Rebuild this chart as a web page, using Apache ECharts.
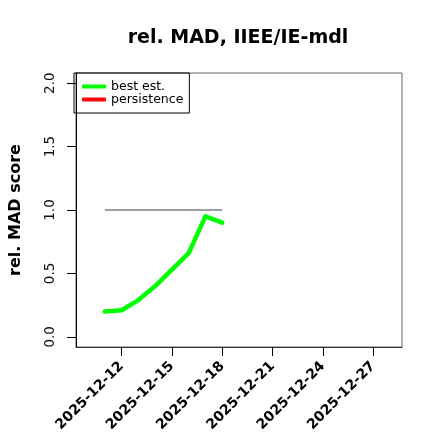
<!DOCTYPE html>
<html><head><meta charset="utf-8">
<script src="https://cdn.jsdelivr.net/npm/echarts@6/dist/echarts.min.js"></script>
<style>html,body{margin:0;padding:0;background:#fff}#c{width:440px;height:440px}</style>
</head><body><div id="c"></div>
<script>
const dates = ['2025-12-11','2025-12-12','2025-12-13','2025-12-14','2025-12-15','2025-12-16','2025-12-17','2025-12-18'];
const bestEst = [0.20, 0.21, 0.29, 0.40, 0.53, 0.66, 0.95, 0.90];
const persistence = [null, null, null, null, null, null, null, null];
const refLine = [1, 1, 1, 1, 1, 1, 1, 1];
const xTickLabels = ['2025-12-12','2025-12-15','2025-12-18','2025-12-21','2025-12-24','2025-12-27'];
const yTickLabels = ['0.0','0.5','1.0','1.5','2.0'];

const t = s => Date.parse(s + 'T00:00:00Z');
const xStart = t('2025-12-10'), xEnd = t('2025-12-28');
const span = xEnd - xStart;
const xTicks = xTickLabels.map(t);
const yTicks = yTickLabels.map(Number);
const pts = arr => dates.map((d, i) => [t(d), arr[i]]);
const font = 'DejaVu Sans';

const chart = echarts.init(document.getElementById('c'), null, {renderer: 'canvas'});
chart.setOption({
  animation: false,
  backgroundColor: '#fff',
  title: {
    text: 'rel. MAD, IIEE/IE-mdl',
    left: 233, top: 24, textAlign: 'center',
    textStyle: {fontFamily: font, fontWeight: 'bold', fontSize: 19, color: '#000'}
  },
  legend: {
    orient: 'vertical', left: 74, top: 73,
    borderColor: '#000', borderWidth: 1, padding: [7, 6, 7, 8],
    itemGap: 0, itemWidth: 24, itemHeight: 4, itemTextGap: 9,
    icon: 'roundRect',
    textStyle: {fontFamily: font, fontSize: 12.5, color: '#000', lineHeight: 13},
    data: ['best est.', 'persistence']
  },
  grid: {left: 74, top: 73, width: 328, height: 274, show: true, borderColor: '#666', borderWidth: 1, backgroundColor: 'transparent'},
  xAxis: {
    type: 'value', min: xStart - 0.04 * span, max: xEnd + 0.04 * span,
    splitLine: {show: false},
    axisLine: {show: true, onZero: false, lineStyle: {color: '#333', width: 1}},
    axisTick: {show: true, length: 9, lineStyle: {color: '#000'}, customValues: xTicks},
    axisLabel: {
      customValues: xTicks, rotate: 45, margin: 17,
      fontFamily: font, fontWeight: 'bold', fontSize: 14, color: '#000',
      formatter: v => new Date(v).toISOString().slice(0, 10)
    }
  },
  yAxis: {
    type: 'value', min: -0.08, max: 2.08,
    name: 'rel. MAD score', nameLocation: 'middle', nameRotate: 90, nameGap: 52,
    nameTextStyle: {fontFamily: font, fontWeight: 'bold', fontSize: 16, color: '#000'},
    splitLine: {show: false},
    axisLine: {show: true, onZero: false, lineStyle: {color: '#000', width: 1}},
    axisTick: {show: true, length: 9, lineStyle: {color: '#000'}, customValues: yTicks},
    axisLabel: {
      customValues: yTicks, rotate: 90, margin: 19,
      fontFamily: font, fontSize: 13.5, color: '#111',
      formatter: v => v.toFixed(1)
    }
  },
  series: [
    {name: 'refLine', type: 'line', data: pts(refLine), showSymbol: false, silent: true,
     lineStyle: {color: '#808080', width: 1.6}, itemStyle: {color: '#808080'}},
    {name: 'best est.', type: 'line', data: pts(bestEst), showSymbol: false,
     lineStyle: {color: '#00ff00', width: 4.5, cap: 'round', join: 'round'}, itemStyle: {color: '#00ff00'}},
    {name: 'persistence', type: 'line', data: pts(persistence), showSymbol: false,
     lineStyle: {color: '#ff0000', width: 4.5}, itemStyle: {color: '#ff0000'}}
  ]
});
</script></body></html>
